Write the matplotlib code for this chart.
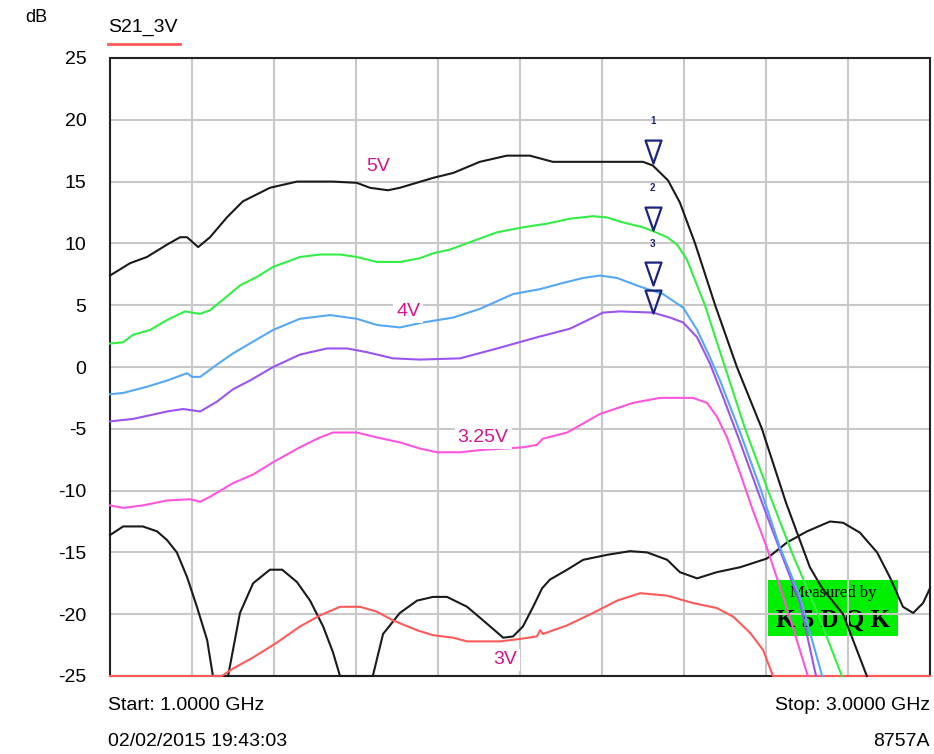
import numpy as np
import matplotlib
matplotlib.use("Agg")
import matplotlib.pyplot as plt
from matplotlib.path import Path
from matplotlib.patches import Rectangle

plt.rcParams["font.family"] = ["Liberation Sans", "DejaVu Sans"]

# =========================
# data (GHz, dB)
# =========================
f_5v = [1.000, 1.049, 1.090, 1.139, 1.171, 1.188, 1.215, 1.244, 1.285, 1.324, 1.390, 1.456,
        1.544, 1.602, 1.634, 1.678, 1.707, 1.788, 1.837, 1.902, 1.968, 2.024, 2.080, 2.300,
        2.324, 2.361, 2.390, 2.427, 2.476, 2.529, 2.590, 2.649, 2.707, 2.737, 2.788, 2.846]
db_5v = [7.4, 8.4, 8.9, 9.9, 10.5, 10.5, 9.7, 10.5, 12.1, 13.4, 14.5, 15.0,
         15.0, 14.9, 14.5, 14.3, 14.5, 15.3, 15.7, 16.6, 17.1, 17.1, 16.6, 16.6,
         16.3, 15.1, 13.3, 10.0, 5.0, 0.0, -5.0, -11.0, -16.2, -17.9, -20.0, -25.0]

f_green = [1.000, 1.032, 1.056, 1.098, 1.139, 1.183, 1.200, 1.220, 1.244, 1.285, 1.317, 1.359,
           1.398, 1.463, 1.512, 1.561, 1.602, 1.651, 1.707, 1.756, 1.788, 1.829, 1.878, 1.944,
           2.007, 2.066, 2.122, 2.178, 2.212, 2.251, 2.300, 2.324, 2.359, 2.383, 2.407, 2.451,
           2.500, 2.549, 2.605, 2.663, 2.727, 2.785]
db_green = [1.9, 2.0, 2.6, 3.0, 3.8, 4.5, 4.4, 4.3, 4.6, 5.7, 6.6, 7.3,
            8.1, 8.9, 9.1, 9.1, 8.9, 8.5, 8.5, 8.8, 9.2, 9.5, 10.1, 10.9,
            11.3, 11.6, 12.0, 12.2, 12.1, 11.7, 11.3, 11.0, 10.5, 9.9, 8.7, 5.0,
            0.0, -5.0, -10.0, -15.0, -20.0, -25.0]

f_4v = [1.000, 1.032, 1.090, 1.139, 1.188, 1.200, 1.220, 1.261, 1.300, 1.341, 1.398, 1.463,
        1.537, 1.602, 1.651, 1.707, 1.763, 1.837, 1.902, 1.983, 2.049, 2.105, 2.154, 2.195,
        2.237, 2.293, 2.349, 2.398, 2.432, 2.463, 2.488, 2.537, 2.585, 2.634, 2.683, 2.737]
db_4v = [-2.2, -2.1, -1.6, -1.1, -0.5, -0.8, -0.8, 0.2, 1.1, 1.9, 3.0, 3.9,
         4.2, 3.9, 3.4, 3.2, 3.6, 4.0, 4.7, 5.9, 6.3, 6.8, 7.2, 7.4,
         7.2, 6.5, 5.9, 4.8, 3.0, 0.8, -1.1, -5.3, -9.7, -14.6, -18.6, -25.0]

f_purple = [1.000, 1.056, 1.098, 1.139, 1.178, 1.200, 1.220, 1.261, 1.300, 1.341, 1.398, 1.463,
            1.529, 1.578, 1.627, 1.690, 1.756, 1.854, 1.944, 2.041, 2.122, 2.178, 2.202, 2.244,
            2.324, 2.366, 2.398, 2.432, 2.463, 2.495, 2.537, 2.585, 2.634, 2.683, 2.722]
db_purple = [-4.4, -4.2, -3.9, -3.6, -3.4, -3.5, -3.6, -2.8, -1.8, -1.1, 0.0, 1.0,
             1.5, 1.5, 1.2, 0.7, 0.6, 0.7, 1.5, 2.4, 3.1, 4.0, 4.4, 4.5,
             4.4, 4.0, 3.6, 2.4, 0.3, -2.4, -6.1, -10.5, -14.8, -19.1, -25.0]

f_325v = [1.000, 1.032, 1.080, 1.139, 1.195, 1.220, 1.244, 1.300, 1.349, 1.398, 1.463, 1.512,
          1.544, 1.602, 1.651, 1.707, 1.756, 1.798, 1.854, 1.910, 2.007, 2.041, 2.056, 2.115,
          2.195, 2.276, 2.341, 2.422, 2.456, 2.480, 2.505, 2.537, 2.568, 2.602, 2.634, 2.666,
          2.702]
db_325v = [-11.2, -11.4, -11.2, -10.8, -10.7, -10.9, -10.5, -9.4, -8.7, -7.7, -6.5, -5.7,
           -5.3, -5.3, -5.7, -6.1, -6.6, -6.9, -6.9, -6.7, -6.5, -6.3, -5.8, -5.3,
           -3.8, -2.9, -2.5, -2.5, -2.9, -4.0, -5.7, -8.6, -11.6, -14.6, -17.8, -21.1,
           -25.0]

f_3v = [1.000, 1.273, 1.300, 1.349, 1.407, 1.463, 1.512, 1.561, 1.610, 1.651, 1.690, 1.749,
        1.788, 1.837, 1.871, 1.951, 2.000, 2.041, 2.049, 2.056, 2.115, 2.178, 2.237, 2.293,
        2.359, 2.422, 2.480, 2.520, 2.561, 2.593, 2.617, 3.000]
db_3v = [-25.0, -25.0, -24.4, -23.5, -22.3, -21.0, -20.1, -19.4, -19.4, -19.8, -20.5, -21.3,
         -21.7, -21.9, -22.2, -22.2, -22.0, -21.8, -21.3, -21.6, -20.9, -19.9, -18.9, -18.3,
         -18.5, -19.1, -19.5, -20.2, -21.5, -22.9, -25.0, -25.0]

f_low = [1.000, 1.032, 1.080, 1.115, 1.139, 1.163, 1.188, 1.212, 1.237, 1.251, 1.288, 1.317,
         1.349, 1.390, 1.420, 1.456, 1.488, 1.520, 1.544, 1.561, 1.641, 1.666, 1.707, 1.749,
         1.788, 1.822, 1.871, 1.910, 1.959, 1.983, 2.007, 2.032, 2.054, 2.073, 2.115, 2.154,
         2.212, 2.268, 2.310, 2.359, 2.390, 2.432, 2.480, 2.537, 2.602, 2.651, 2.700, 2.756,
         2.788, 2.829, 2.871, 2.902, 2.934, 2.959, 2.983, 3.000]
db_low = [-13.6, -12.9, -12.9, -13.3, -14.0, -15.0, -17.0, -19.4, -22.1, -25.0, -25.0, -19.9,
          -17.5, -16.4, -16.4, -17.4, -18.9, -21.0, -23.1, -25.0, -25.0, -21.6, -19.9, -18.9,
          -18.6, -18.6, -19.4, -20.5, -21.9, -21.8, -21.0, -19.4, -17.9, -17.2, -16.4, -15.6,
          -15.2, -14.9, -15.0, -15.6, -16.6, -17.1, -16.6, -16.2, -15.5, -14.2, -13.3, -12.5,
          -12.6, -13.4, -15.0, -17.0, -19.4, -19.9, -19.1, -17.9]

marker_f = 2.324
marker_db = [16.5, 11.1, 6.6, 4.4]
marker_ids = ["1", "2", "3", ""]

y_ticks = [25, 20, 15, 10, 5, 0, -5, -10, -15, -20, -25]

# =========================
# figure
# =========================
fig = plt.figure(figsize=(9.34, 7.54), dpi=100)
ax = fig.add_axes([110 / 934, 78 / 754, 820 / 934, 618 / 754])

ax.set_xlim(1.0, 3.0)
ax.set_ylim(-25, 25)
ax.set_xticks(np.linspace(1.0, 3.0, 11))
ax.set_yticks(y_ticks)
ax.set_xticklabels([])
ax.set_yticklabels([str(v) for v in y_ticks], fontsize=14)
ax.tick_params(length=0, pad=17)
ax.grid(True, color="#c8c8c8", lw=1.5)
ax.set_axisbelow(True)
for s in ax.spines.values():
    s.set_color("#222222")
    s.set_linewidth(1.5)

lw = 1.5
ax.plot(f_low, db_low, color="#1a1a1a", lw=lw, zorder=3, clip_on=False)
ax.plot(f_3v, db_3v, color="#ff5a5a", lw=lw, zorder=3, clip_on=False)
ax.plot(f_325v, db_325v, color="#ff55dd", lw=lw, zorder=3, clip_on=False)
ax.plot(f_purple, db_purple, color="#9a55f0", lw=lw, zorder=3, clip_on=False)
ax.plot(f_4v, db_4v, color="#55a8f5", lw=lw, zorder=3, clip_on=False)
ax.plot(f_green, db_green, color="#33ee44", lw=lw, zorder=3, clip_on=False)
ax.plot(f_5v, db_5v, color="#1a1a1a", lw=lw, zorder=3, clip_on=False)

# marker triangles, tip on the trace
tri = Path([(-8, 23), (8, 23), (0, 0), (-8, 23)],
           [Path.MOVETO, Path.LINETO, Path.LINETO, Path.CLOSEPOLY])
for v, lab in zip(marker_db, marker_ids):
    ax.plot([marker_f], [v], marker=tri, ms=33, mfc="none", mec="#1a237e",
            mew=1.6, zorder=5, linestyle="none")
    if lab:
        ax.annotate(lab, (marker_f, v), xytext=(0, 30), textcoords="offset points",
                    ha="center", va="center", fontsize=7, color="#1a237e",
                    fontweight="bold", zorder=5)

# trace labels
lbl_color = "#d0168c"
for txt, x, y in [("5V", 1.654, 16.2), ("4V", 1.727, 4.5),
                  ("3.25V", 1.910, -5.7), ("3V", 1.963, -23.7)]:
    ax.text(x, y, txt, color=lbl_color, fontsize=14, ha="center", va="center", zorder=4,
            bbox=dict(boxstyle="square,pad=0.15", fc="white", ec="none"))

# green stamp
ax.add_patch(Rectangle((0.802, 0.065), 0.159, 0.09, transform=ax.transAxes,
                       facecolor="#00ee00", edgecolor="none", zorder=0.2))
ax.text(0.882, 0.134, "Measured by", transform=ax.transAxes, ha="center", va="center",
        fontsize=12, family="Liberation Serif", zorder=0.3)
ax.text(0.882, 0.090, "K 5 D Q K", transform=ax.transAxes, ha="center", va="center",
        fontsize=18, family="Liberation Serif", fontweight="bold", zorder=0.3)

# header / footer
fig.text(25 / 934, 1 - 18 / 754, "dB", fontsize=13, va="center", ha="left")
fig.text(108 / 934, 1 - 27 / 754, "S21_3V", fontsize=14, va="center", ha="left")
fig.add_artist(plt.Line2D([108 / 934, 180 / 934], [1 - 44 / 754, 1 - 44 / 754],
                          color="#ff5a5a", lw=2))
fig.text(108 / 934, 1 - 705 / 754, "Start: 1.0000 GHz", fontsize=14, va="center", ha="left")
fig.text(930 / 934, 1 - 705 / 754, "Stop: 3.0000 GHz", fontsize=14, va="center", ha="right")
fig.text(108 / 934, 1 - 742 / 754, "02/02/2015 19:43:03", fontsize=14, va="center", ha="left")
fig.text(930 / 934, 1 - 742 / 754, "8757A", fontsize=14, va="center", ha="right")

fig.savefig("out.png", dpi=100)
